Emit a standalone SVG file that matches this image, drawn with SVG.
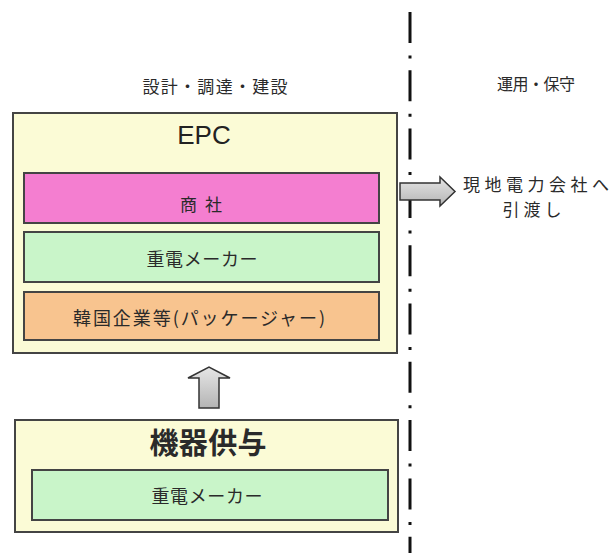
<svg xmlns="http://www.w3.org/2000/svg" width="610" height="553" viewBox="0 0 610 553">
<style>
.jp{font-family:"Noto Sans CJK JP","Noto Sans",sans-serif;fill:#2a2a2a;text-anchor:middle;dominant-baseline:central}
.box{stroke:#444;stroke-width:2}
.outer{fill:#fbfbd6}
.pink{fill:#f47ed0}
.green{fill:#c9f5c9}
.orange{fill:#f8c48f}
.arrow{fill:url(#g);stroke:#333;stroke-width:1.5;stroke-linejoin:miter}
</style>
<defs>
<linearGradient id="g" x1="0" y1="0" x2="0" y2="1">
<stop offset="0" stop-color="#e6e6e6"/><stop offset="1" stop-color="#b4b4b4"/>
</linearGradient>
</defs>
<rect width="610" height="553" fill="#ffffff"/>
<g id="divider">
<path d="M410 12V553" stroke="#111" stroke-width="3" stroke-dasharray="31 12.5 3 11.8" fill="none"/>
</g>
<text class="jp" x="215" y="85" font-size="17" textLength="145" lengthAdjust="spacing">設計・調達・建設</text>
<text class="jp" x="536" y="83" font-size="16" textLength="78" lengthAdjust="spacing">運用・保守</text>
<g id="epc">
<rect class="box outer" x="13" y="113" width="384" height="240"/>
<text x="204" y="135" font-family="Liberation Sans,Arial,sans-serif" font-size="26" fill="#222" text-anchor="middle" dominant-baseline="central">EPC</text>
</g>
<g id="shosha">
<rect class="box pink" x="24" y="173" width="355" height="50"/>
<text class="jp" x="201" y="203" font-size="17" textLength="42" lengthAdjust="spacing">商社</text>
</g>
<g id="juden1">
<rect class="box green" x="24" y="232" width="355" height="50"/>
<text class="jp" x="202" y="258" font-size="18" textLength="111" lengthAdjust="spacing">重電メーカー</text>
</g>
<g id="korea">
<rect class="box orange" x="24" y="292" width="355" height="48"/>
<text class="jp" x="199" y="317" font-size="18" textLength="252" lengthAdjust="spacing">韓国企業等(パッケージャー)</text>
</g>
<g id="kiki">
<rect class="box outer" x="15" y="420" width="383" height="112"/>
<text class="jp" x="208" y="441" font-size="29" font-weight="bold" fill="#222" textLength="117" lengthAdjust="spacing">機器供与</text>
</g>
<g id="juden2">
<rect class="box green" x="32" y="470" width="356" height="50"/>
<text class="jp" x="207" y="495" font-size="18" textLength="111" lengthAdjust="spacing">重電メーカー</text>
</g>
<g id="connectors">
<polygon class="arrow" points="199,408 219,408 219,378 230,378 209,367 188,378 199,378"/>
<polygon class="arrow" points="400,183 440,183 440,177 455,191.5 440,206 440,200 400,200"/>
</g>
<g id="handover">
<text class="jp" x="536" y="183" font-size="17" textLength="146" lengthAdjust="spacing">現地電力会社へ</text>
<text class="jp" x="532" y="208" font-size="17" textLength="59" lengthAdjust="spacing">引渡し</text>
</g>
</svg>
